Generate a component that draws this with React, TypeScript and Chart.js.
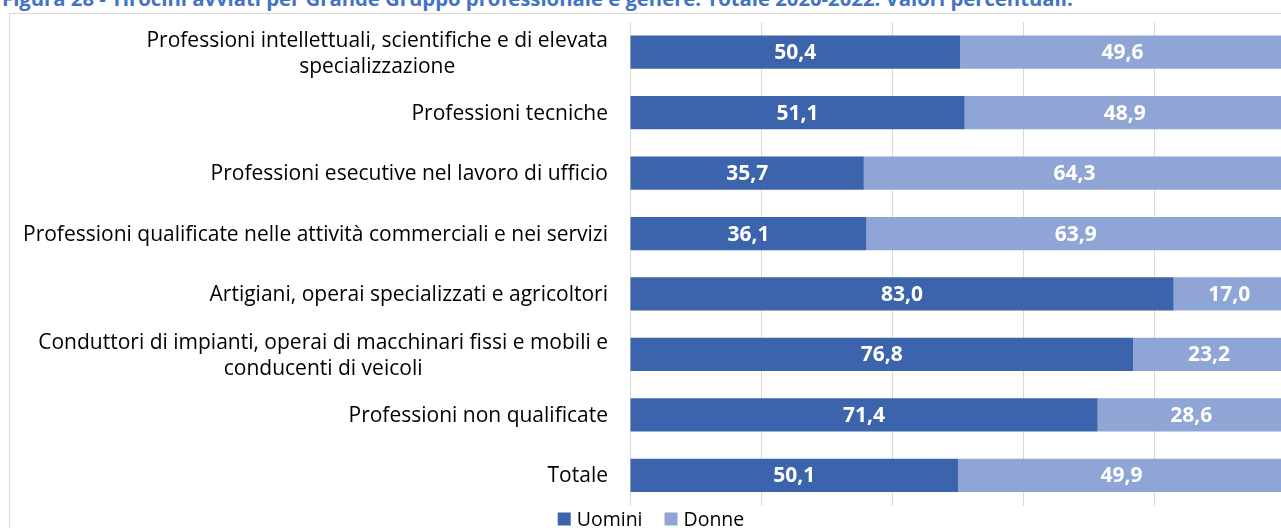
import React, { useEffect, useRef } from 'react';
import { Chart, registerables } from 'chart.js';

Chart.register(...registerables);

const titleText =
  'Figura 28 - Tirocini avviati per Grande Gruppo professionale e genere. Totale 2020-2022. Valori percentuali.';

const categories: (string | string[])[] = [
  ['Professioni intellettuali, scientifiche e di elevata', 'specializzazione'],
  'Professioni tecniche',
  'Professioni esecutive nel lavoro di ufficio',
  'Professioni qualificate nelle attività commerciali e nei servizi',
  'Artigiani, operai specializzati e agricoltori',
  ['Conduttori di impianti, operai di macchinari fissi e mobili e', 'conducenti di veicoli'],
  'Professioni non qualificate',
  'Totale',
];

const seriesNames = ['Uomini', 'Donne'];
const uomini = [50.4, 51.1, 35.7, 36.1, 83.0, 76.8, 71.4, 50.1];
const donne = [49.6, 48.9, 64.3, 63.9, 17.0, 23.2, 28.6, 49.9];
const seriesColors = ['#3C64AC', '#8FA5D5'];
const xMin = 0;
const xMax = 100;
const xStep = 20;

const FONT = "'Open Sans', 'Noto Sans', sans-serif";

const fmt = (v: number) => v.toFixed(1).replace('.', ',');

const labelPlugin = {
  id: 'customLabels',
  afterDraw(chart: any) {
    const ctx = chart.ctx;
    const yScale = chart.scales.y;
    const area = chart.chartArea;
    // category labels (multi-line centered, block right aligned)
    ctx.save();
    ctx.font = `21px ${FONT}`;
    ctx.fillStyle = '#000000';
    ctx.textBaseline = 'middle';
    ctx.textAlign = 'center';
    const right = area.left - 22;
    const lineH = 26;
    categories.forEach((lab, i) => {
      const lines = Array.isArray(lab) ? lab : [lab];
      const widths = lines.map((l) => ctx.measureText(l).width);
      const maxW = Math.max(...widths);
      const cx = right - maxW / 2;
      const cy = yScale.getPixelForValue(i) + (lines.length > 1 ? 2 : 1);
      lines.forEach((l, j) => {
        ctx.fillText(l, cx, cy + (j - (lines.length - 1) / 2) * lineH);
      });
    });
    ctx.restore();

    // legend
    ctx.save();
    ctx.font = `19.5px ${FONT}`;
    ctx.textBaseline = 'middle';
    ctx.textAlign = 'left';
    const box = 13;
    const gap = 6;
    const itemGap = 22;
    const widths = seriesNames.map((n) => box + gap + ctx.measureText(n).width);
    const total = widths.reduce((a, b) => a + b, 0) + itemGap * (seriesNames.length - 1);
    let x = 641 - total / 2;
    const y = 505;
    seriesNames.forEach((n, i) => {
      ctx.fillStyle = seriesColors[i];
      ctx.fillRect(x, y - box / 2, box, box);
      ctx.fillStyle = '#000000';
      ctx.fillText(n, x + box + gap, y + 1);
      x += widths[i] + itemGap;
    });
    ctx.restore();
  },
  afterDatasetsDraw(chart: any) {
    const ctx = chart.ctx;
    ctx.save();
    ctx.font = `bold 21px ${FONT}`;
    ctx.fillStyle = '#FFFFFF';
    ctx.textAlign = 'center';
    ctx.textBaseline = 'middle';
    chart.data.datasets.forEach((ds: any, di: number) => {
      const meta = chart.getDatasetMeta(di);
      meta.data.forEach((bar: any, i: number) => {
        const cx = (bar.x + bar.base) / 2;
        ctx.fillText(fmt(ds.data[i]), cx, bar.y + 1);
      });
    });
    ctx.restore();
  },
};

export default function App() {
  const ref = useRef<HTMLCanvasElement | null>(null);

  useEffect(() => {
    if (!ref.current) return;
    const chart = new Chart(ref.current, {
      type: 'bar',
      data: {
        labels: categories.map((c) => (Array.isArray(c) ? c.join(' ') : c)),
        datasets: [
          {
            label: seriesNames[0],
            data: uomini,
            backgroundColor: seriesColors[0],
            categoryPercentage: 1,
            barPercentage: 0.55,
          },
          {
            label: seriesNames[1],
            data: donne,
            backgroundColor: seriesColors[1],
            categoryPercentage: 1,
            barPercentage: 0.55,
          },
        ],
      },
      options: {
        indexAxis: 'y',
        animation: false,
        responsive: false,
        devicePixelRatio: 1,
        layout: { padding: { left: 0, right: 15, top: 8, bottom: 22.5 } },
        plugins: {
          legend: { display: false },
          tooltip: { enabled: false },
          title: { display: false },
        },
        scales: {
          x: {
            stacked: true,
            min: xMin,
            max: xMax,
            ticks: { display: false, stepSize: xStep },
            grid: { color: '#D9D9D9', lineWidth: 1, drawTicks: false },
            border: { display: false },
            afterFit: (s: any) => {
              s.height = 0;
            },
          },
          y: {
            stacked: true,
            ticks: { display: false },
            grid: { display: false },
            border: { display: false },
            afterFit: (s: any) => {
              s.width = 620;
            },
          },
        },
      },
      plugins: [labelPlugin],
    });
    return () => chart.destroy();
  }, []);

  return (
    <div
      style={{
        position: 'fixed',
        left: 0,
        top: 0,
        width: 1281,
        height: 528,
        overflow: 'hidden',
        background: '#FFFFFF',
      }}
    >
      <div
        style={{
          position: 'absolute',
          left: 2,
          top: -14.5,
          whiteSpace: 'nowrap',
          fontFamily: FONT,
          fontWeight: 'bold',
          fontSize: 20.3,
          lineHeight: '24px',
          color: '#4472C4',
        }}
      >
        {titleText}
      </div>
      <div
        style={{
          position: 'absolute',
          left: 9,
          top: 13,
          width: 1400,
          height: 600,
          border: '1px solid #D9D9D9',
          boxSizing: 'border-box',
        }}
      />
      <canvas
        ref={ref}
        width={1290}
        height={514}
        style={{ position: 'absolute', left: 10, top: 14, width: 1290, height: 514 }}
      />
    </div>
  );
}
